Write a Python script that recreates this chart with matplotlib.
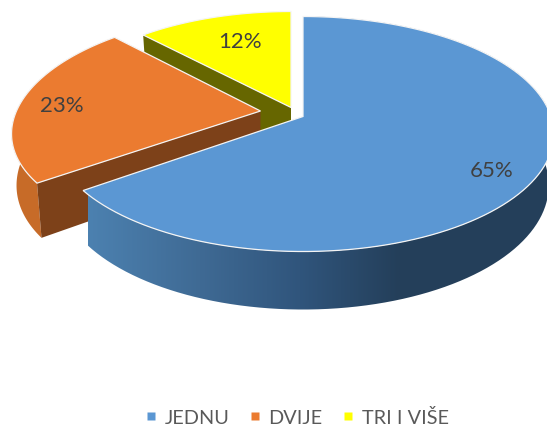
import numpy as np
import matplotlib
matplotlib.use('Agg')
import matplotlib.pyplot as plt
from matplotlib.colors import LinearSegmentedColormap
from matplotlib.lines import Line2D
from matplotlib.patches import Polygon

categories = ['JEDNU', 'DVIJE', 'TRI I VIŠE']
values = [65, 23, 12]
labels = ['65%', '23%', '12%']
colors = ['#5B97D3', '#EB7B30', '#FFFF00']

# where each exploded slice sits on the canvas, in px
centers = [(303, 117.5), (260.5, 112), (291, 108.5)]
# x radius, y radius, x perspective for each slice
radii_x = [248, 244, 238]
radii_y = [114.9, 112, 110.3]
persp_x = [0.149, 0.1985, 0.14]
label_pos = [(492, 171), (62, 106), (240, 42)]

plt.rcParams['font.family'] = ['Lato', 'DejaVu Sans']

fig = plt.figure(figsize=(5.47, 4.27), dpi=100)
ax = fig.add_axes([0, 0, 1, 1])


def rim(theta, i, bottom=False):
    # simple perspective view of the pie's circle, theta clockwise from top
    cx, cy = centers[i]
    X = np.sin(theta)
    Y = -np.cos(theta)
    wx = 1 - persp_x[i] * Y
    wy = 1 - 0.149 * Y
    if bottom:
        return np.c_[cx + 0.98 * radii_x[i] * X / wx, cy + radii_y[i] * Y / wy + 50 + 8 * Y]
    return np.c_[cx + radii_x[i] * X / wx, cy + radii_y[i] * Y / wy]


def darker(col, f):
    rgb = np.array(matplotlib.colors.to_rgb(col))
    return tuple(rgb * f)


edges = np.radians(np.r_[0, np.cumsum(values)] * 3.6)

# back to front: yellow, orange, blue
for i in [2, 1, 0]:
    cx, cy = centers[i]
    t = np.linspace(edges[i], edges[i + 1], 120)
    top = rim(t, i)
    low = rim(t, i, bottom=True)

    # cut wall on the slice's first edge
    if i > 0:
        wall = np.array([top[0], (cx, cy), (cx, cy + 50), low[0]])
        ax.add_patch(Polygon(wall, closed=True, fc=darker(colors[i], 0.4 if i == 2 else 0.53),
                             ec='none', zorder=2 * (3 - i)))

    # outer side
    side = np.r_[top, low[::-1]]
    if i == 0:
        cmap = LinearSegmentedColormap.from_list('side', [(0, '#4C81B0'), (0.36, '#3F6A94'),
                                                          (0.68, '#30557C'), (1, '#243F5A')])
        im = ax.imshow(np.linspace(0, 1, 256)[None, :], extent=(88, 400, 320, 0), cmap=cmap,
                       aspect='auto', zorder=5)
        right = ax.imshow([[1]], extent=(400, 560, 320, 0), cmap=cmap, vmin=0, vmax=1,
                          aspect='auto', zorder=5)
        clip = Polygon(side, closed=True, transform=ax.transData)
        im.set_clip_path(clip)
        right.set_clip_path(clip)
    elif i == 1:
        ax.add_patch(Polygon(side, closed=True, fc='#C76B28', ec='none', zorder=3))

    # top face
    face = np.r_[[(cx, cy)], top]
    ax.add_patch(Polygon(face, closed=True, fc=colors[i], ec='#F4F4F4', lw=0.9,
                         zorder=2 * (3 - i) + 1, joinstyle='miter'))
    ax.text(label_pos[i][0], label_pos[i][1], labels[i], color='#404040', fontsize=16,
            ha='center', va='center', zorder=10)

handles = [Line2D([], [], ls='none', marker='s', ms=6, mfc=c, mec='none') for c in colors]
ax.legend(handles, categories, ncol=3, loc='center', bbox_to_anchor=(297 / 547, 1 - 418 / 427),
          frameon=False, fontsize=14.3, labelcolor='#595959', handlelength=0.6, handletextpad=0.37,
          columnspacing=1.0, borderpad=0)

ax.set_xlim(0, 547)
ax.set_ylim(427, 0)
ax.axis('off')
fig.savefig('out.png', dpi=100)
